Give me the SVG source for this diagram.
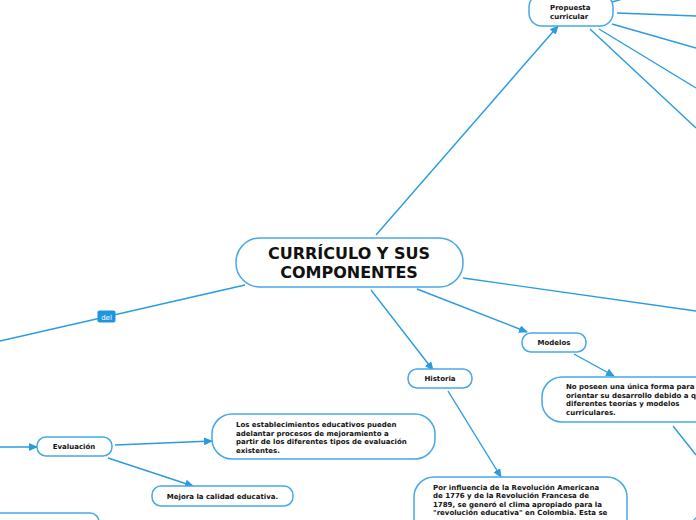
<svg xmlns="http://www.w3.org/2000/svg" width="696" height="520" viewBox="0 0 696 520">
<style>
.n{fill:#fff;stroke:#45a8ea;stroke-width:1.5}
.c{fill:none;stroke:#2a9be3;stroke-width:1.4}
.t{font-family:"DejaVu Sans",Verdana,sans-serif;font-weight:bold;font-size:7px;fill:#111}
.tc{text-anchor:middle}
.title{font-family:"DejaVu Sans",Verdana,sans-serif;font-weight:bold;font-size:16px;fill:#111;text-anchor:middle}
</style>
<defs>
<marker id="ah" markerUnits="userSpaceOnUse" markerWidth="9" markerHeight="8" viewBox="0 0 9 8" refX="8" refY="4" orient="auto">
<path d="M0,0 L9,4 L0,8 Z" fill="#2a9be3"/>
</marker>
</defs>
<rect width="696" height="520" fill="#fff"/>
<g id="connectors">
<line class="c" x1="376" y1="235" x2="558" y2="26" marker-end="url(#ah)"/>
<line class="c" x1="612" y1="2" x2="626" y2="-2"/>
<line class="c" x1="617" y1="13" x2="696" y2="16"/>
<line class="c" x1="612" y1="24" x2="696" y2="48"/>
<line class="c" x1="599" y1="29" x2="696" y2="88"/>
<line class="c" x1="590" y1="29" x2="696" y2="128"/>
<line class="c" x1="463" y1="278" x2="696" y2="311"/>
<line class="c" x1="417" y1="289" x2="527" y2="332" marker-end="url(#ah)"/>
<line class="c" x1="371" y1="290" x2="433" y2="370" marker-end="url(#ah)"/>
<line class="c" x1="574" y1="354" x2="614" y2="376" marker-end="url(#ah)"/>
<line class="c" x1="673" y1="426" x2="696" y2="455"/>
<line class="c" x1="448" y1="391" x2="501" y2="477" marker-end="url(#ah)"/>
<line class="c" x1="245" y1="285" x2="0" y2="341"/>
<line class="c" x1="0" y1="447" x2="37" y2="447" marker-end="url(#ah)"/>
<line class="c" x1="115" y1="445" x2="212" y2="441" marker-end="url(#ah)"/>
<line class="c" x1="108" y1="458" x2="193" y2="486" marker-end="url(#ah)"/>
<g id="label-del">
<rect x="97.5" y="310.5" width="18" height="12" rx="2" fill="#1f95dd"/>
<text x="106.5" y="319.5" font-family="DejaVu Sans,Verdana,sans-serif" font-size="7" fill="#fff" text-anchor="middle">del</text>
</g>
</g>
<g id="central">
<rect class="n" x="236" y="238" width="227" height="49" rx="24"/>
<text class="title" x="349" y="258.5">CURRÍCULO Y SUS</text>
<text class="title" x="349" y="277.5">COMPONENTES</text>
</g>
<g id="propuesta">
<rect class="n" x="529" y="-6" width="84" height="32" rx="13"/>
<text class="t" x="550" y="10">Propuesta</text>
<text class="t" x="550" y="19">curricular</text>
</g>
<g id="modelos">
<rect class="n" x="522" y="333" width="64" height="19" rx="9"/>
<text class="t tc" x="554" y="345">Modelos</text>
</g>
<g id="modelos-desc">
<rect class="n" x="542" y="377" width="200" height="45" rx="20"/>
<text class="t" x="566" y="389">No poseen una única forma para</text>
<text class="t" x="566" y="397.5">orientar su desarrollo debido a que</text>
<text class="t" x="566" y="406">diferentes teorías y modelos</text>
<text class="t" x="566" y="414.5">curriculares.</text>
</g>
<g id="historia">
<rect class="n" x="408" y="369" width="64" height="19" rx="9"/>
<text class="t tc" x="440" y="380.5">Historia</text>
</g>
<g id="historia-desc">
<rect class="n" x="414" y="477" width="213" height="70" rx="20"/>
<text class="t" x="433" y="489.5">Por influencia de la Revolución Americana</text>
<text class="t" x="433" y="498">de 1776 y de la Revolución Francesa de</text>
<text class="t" x="433" y="506.5">1789, se generó el clima apropiado para la</text>
<text class="t" x="433" y="515">"revolución educativa" en Colombia. Esta se</text>
</g>
<g id="evaluacion">
<rect class="n" x="37" y="437" width="75" height="19" rx="9"/>
<text class="t tc" x="74" y="449">Evaluación</text>
</g>
<g id="evaluacion-desc">
<rect class="n" x="212" y="414" width="223" height="45" rx="20"/>
<text class="t" x="236" y="427">Los establecimientos educativos pueden</text>
<text class="t" x="236" y="435.5">adelantar procesos de mejoramiento a</text>
<text class="t" x="236" y="444">partir de los diferentes tipos de evaluación</text>
<text class="t" x="236" y="452.5">existentes.</text>
</g>
<g id="mejora">
<rect class="n" x="152" y="486" width="141" height="20" rx="9"/>
<text class="t tc" x="222.5" y="498.5">Mejora la calidad educativa.</text>
</g>
<g id="bottom-left">
<rect class="n" x="-20" y="513" width="119" height="30" rx="9"/>
</g>
<g id="bottom-right">
<rect class="n" x="692" y="516" width="40" height="30" rx="10"/>
</g>
</svg>
